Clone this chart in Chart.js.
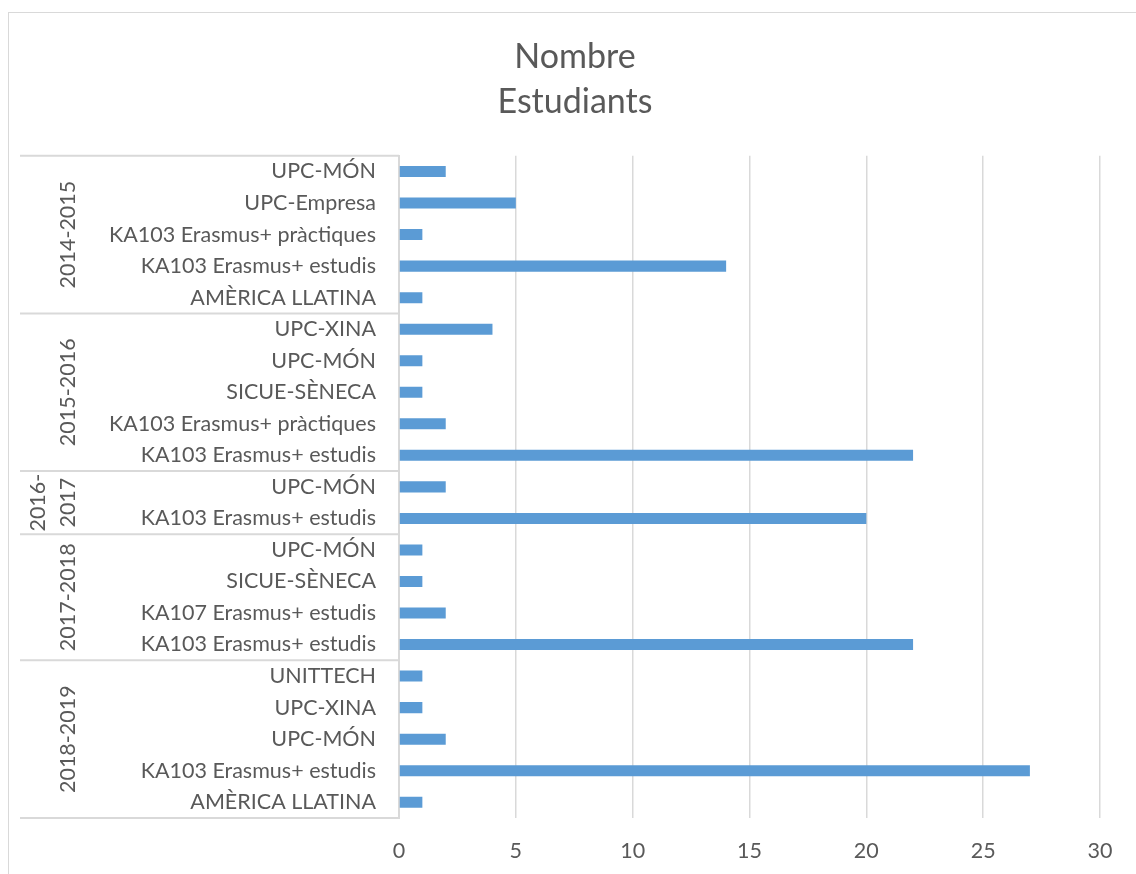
<!DOCTYPE html>
<html>
<head>
<meta charset="utf-8">
<script src="https://cdn.jsdelivr.net/npm/chart.js@4"></script>
<style>
  body { margin: 0; background: #fff; }
  #frame { position: absolute; left: 8px; top: 12px; width: 1200px; height: 1000px; border: 1px solid #d9d9d9; }
  #wrap { position: absolute; left: 0; top: 0; width: 1136px; height: 874px; }
</style>
</head>
<body>
<div id="frame"></div>
<div id="wrap"><canvas id="myChart"></canvas></div>
<script>
// --- Data ---
const programs = [
  "UPC-MÓN", "UPC-Empresa", "KA103 Erasmus+ pràctiques", "KA103 Erasmus+ estudis", "AMÈRICA LLATINA",
  "UPC-XINA", "UPC-MÓN", "SICUE-SÈNECA", "KA103 Erasmus+ pràctiques", "KA103 Erasmus+ estudis",
  "UPC-MÓN", "KA103 Erasmus+ estudis",
  "UPC-MÓN", "SICUE-SÈNECA", "KA107 Erasmus+ estudis", "KA103 Erasmus+ estudis",
  "UNITTECH", "UPC-XINA", "UPC-MÓN", "KA103 Erasmus+ estudis", "AMÈRICA LLATINA"
];
const students = [2, 5, 1, 14, 1, 4, 1, 1, 2, 22, 2, 20, 1, 1, 2, 22, 1, 1, 2, 27, 1];
// academic years (wrapped lines as shown) and how many programs each has
const yearLabels = [["2014-2015"], ["2015-2016"], ["2016-", "2017"], ["2017-2018"], ["2018-2019"]];
const yearSizes = [5, 5, 2, 4, 5];
const xTicks = [0, 5, 10, 15, 20, 25, 30];

const textColor = "#595959";
const lineColor = "#d9d9d9";
const fontFamily = "Lato, 'Open Sans', sans-serif";
const labelSize = 21.5;

// --- Year groups drawn left of the program labels ---
const yearGroups = {
  id: "yearGroups",
  afterDraw(chart) {
    const ctx = chart.ctx;
    const y = chart.scales.y;
    const left = chart.chartArea.left;
    const step = y.getPixelForValue(1) - y.getPixelForValue(0);
    ctx.save();
    ctx.strokeStyle = lineColor;
    ctx.lineWidth = 2;
    ctx.fillStyle = textColor;
    ctx.font = labelSize + "px " + fontFamily;
    ctx.textAlign = "center";
    ctx.textBaseline = "middle";
    let start = 0;
    yearSizes.forEach((n, i) => {
      const top = y.getPixelForValue(start) - step / 2;
      const bottom = y.getPixelForValue(start + n - 1) + step / 2;
      ctx.beginPath();
      ctx.moveTo(20, top);
      ctx.lineTo(left, top);
      ctx.stroke();
      if (i === yearSizes.length - 1) {
        ctx.beginPath();
        ctx.moveTo(20, bottom);
        ctx.lineTo(left, bottom);
        ctx.stroke();
      }
      // rotated year label
      const lines = yearLabels[i];
      ctx.save();
      ctx.translate(68, (top + bottom) / 2);
      ctx.rotate(-Math.PI / 2);
      lines.forEach((t, k) => {
        ctx.fillText(t, 0, (k - (lines.length - 1)) * 30);
      });
      ctx.restore();
      start += n;
    });
    ctx.restore();
  }
};

const ctx = document.getElementById("myChart");
new Chart(ctx, {
  type: "bar",
  data: {
    labels: programs,
    datasets: [{
      label: "Nombre Estudiants",
      data: students,
      backgroundColor: "#5b9bd5",
      categoryPercentage: 1,
      barPercentage: 0.35
    }]
  },
  options: {
    indexAxis: "y",
    responsive: true,
    maintainAspectRatio: false,
    animation: false,
    layout: { padding: { left: 50, right: 36, top: 0, bottom: 0 } },
    plugins: {
      legend: { display: false },
      tooltip: { enabled: false },
      title: {
        display: true,
        text: ["Nombre", "Estudiants"],
        color: textColor,
        font: { family: fontFamily, size: 34, weight: "normal", lineHeight: 1.32 },
        padding: { top: 35, bottom: 31 }
      }
    },
    scales: {
      x: {
        min: 0,
        max: 30,
        afterFit: s => { s.height = 56; },
        afterBuildTicks: s => { s.ticks = xTicks.map(v => ({ value: v })); },
        grid: { color: lineColor, lineWidth: 1.5, drawTicks: false },
        border: { display: false },
        ticks: { color: textColor, padding: 20, font: { family: fontFamily, size: labelSize } }
      },
      y: {
        afterFit: s => { s.width = 349; },
        grid: { display: false, drawTicks: false },
        border: { display: true, color: lineColor, width: 2 },
        ticks: { color: textColor, padding: 23, autoSkip: false, font: { family: fontFamily, size: labelSize } }
      }
    }
  },
  plugins: [yearGroups]
});
</script>
</body>
</html>
